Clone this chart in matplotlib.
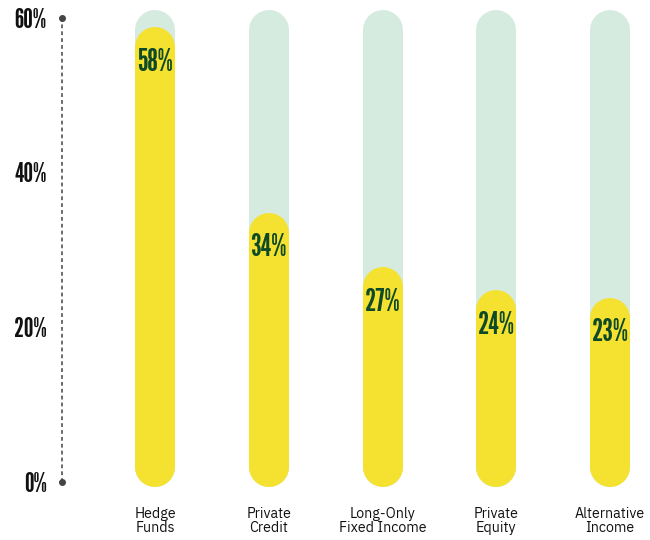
import matplotlib
matplotlib.use("Agg")
import matplotlib.pyplot as plt

# data
categories = ["Hedge\nFunds", "Private\nCredit", "Long-Only\nFixed Income", "Private\nEquity", "Alternative\nIncome"]
values = [58, 34, 27, 24, 23]
value_labels = ["58%", "34%", "27%", "24%", "23%"]
y_ticks = [0, 20, 40, 60]
y_tick_labels = ["0%", "20%", "40%", "60%"]
track_max = 60

YELLOW = "#f5e12f"
TRACK = "#d6ebe0"
DARK_GREEN = "#0e4a27"
BIG = ["League Gothic", "DejaVu Sans"]
SMALL = ["IBM Plex Sans", "DejaVu Sans"]

fig = plt.figure(figsize=(6.5, 5.4), dpi=100)
ax = fig.add_axes([62 / 650, 58 / 540, 588 / 650, 464 / 540])
ax.set_ylim(0, 60)
x0 = -0.8176
ax.set_xlim(x0, 5.169 + x0)
ax.axis("off")

px_per_unit = 464 / 60
cap = 20 / px_per_unit          # half of the bar width, in data units
lw = 40 * 72 / 100              # bar width in points

for i, v in enumerate(values):
    # light track up to just above 60%
    ax.plot([i, i], [-0.6 + cap, track_max + 1 - cap], color=TRACK, lw=lw,
            solid_capstyle="round", clip_on=False, zorder=1)
    # yellow bar
    ax.plot([i, i], [-0.6 + cap, v + 0.8 - cap], color=YELLOW, lw=lw,
            solid_capstyle="round", clip_on=False, zorder=2)
    ax.text(i, v + 0.8 - 35 / px_per_unit, value_labels[i], ha="center", va="center",
            fontsize=22, family=BIG, fontweight="bold", color=DARK_GREEN, zorder=3)
    ax.text(i, -3.2, categories[i], ha="center", va="top", fontsize=10.3,
            family=SMALL, color="#111111", linespacing=1.0, clip_on=False)

# dotted axis line with end dots
ax.plot([x0, x0], [0, 60], color="#444444", lw=1.1, ls=(0, (2.5, 2)),
        clip_on=False, zorder=1)
ax.plot([x0, x0], [0, 60], "o", color="#444444", ms=4, clip_on=False)

for t, lab in zip(y_ticks, y_tick_labels):
    ax.text(x0 - 15 / 113.75, t - 0.3, lab, ha="right", va="center", fontsize=19.5,
            family=BIG, fontweight="bold", color="#111111")

fig.savefig("out.png", dpi=100)
